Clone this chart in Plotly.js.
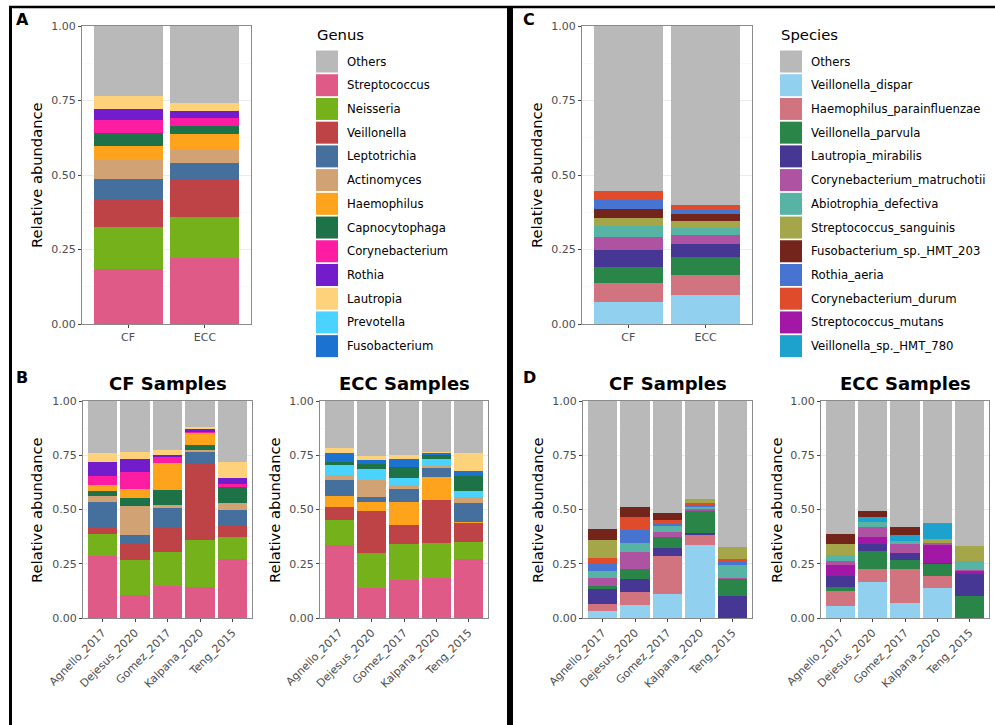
<!DOCTYPE html>
<html>
<head>
<meta charset="utf-8">
<script src="https://cdn.plot.ly/plotly-3.0.1.min.js"></script>
<style>html,body{margin:0;padding:0;background:#fff;}#chart{width:995px;height:725px;}</style>
</head>
<body>
<div id="chart"></div>
<script>
// ---------- categories ----------
const groups = ['CF', 'ECC'];
const studies = ['Agnello_2017', 'Dejesus_2020', 'Gomez_2017', 'Kalpana_2020', 'Teng_2015'];

const genera = ['Others', 'Streptococcus', 'Neisseria', 'Veillonella', 'Leptotrichia', 'Actinomyces',
  'Haemophilus', 'Capnocytophaga', 'Corynebacterium', 'Rothia', 'Lautropia', 'Prevotella', 'Fusobacterium'];
const genusColors = ['#b9b9b9', '#e05a88', '#75b11b', '#be4346', '#45709e', '#d1a274',
  '#fea31c', '#1d7248', '#fe1ca3', '#721ccb', '#fed27a', '#4ad3fe', '#1c72d0'];

const species = ['Others', 'Veillonella_dispar', 'Haemophilus_parainfluenzae', 'Veillonella_parvula',
  'Lautropia_mirabilis', 'Corynebacterium_matruchotii', 'Abiotrophia_defectiva', 'Streptococcus_sanguinis',
  'Fusobacterium_sp._HMT_203', 'Rothia_aeria', 'Corynebacterium_durum', 'Streptococcus_mutans', 'Veillonella_sp._HMT_780'];
const speciesColors = ['#b9b9b9', '#92d0f0', '#d27480', '#2a8548', '#463794', '#ae53a1',
  '#57b3a3', '#a5a54a', '#73251b', '#4774d1', '#e04b2b', '#a217a5', '#1ca2cc'];

// ---------- values (rows in legend order, columns = categories) ----------
// Panel A: genus, columns CF, ECC
const genusA = [
  [0.236, 0.258], [0.185, 0.220], [0.140, 0.138], [0.093, 0.129], [0.069, 0.054], [0.064, 0.042],
  [0.045, 0.055], [0.044, 0.028], [0.044, 0.024], [0.039, 0.026], [0.041, 0.026], [0, 0], [0, 0]
];
// Panel B: genus per study (Agnello, Dejesus, Gomez, Kalpana, Teng)
const genusB_CF = [
  [0.241, 0.237, 0.226, 0.121, 0.280],
  [0.287, 0.108, 0.149, 0.144, 0.272],
  [0.099, 0.159, 0.155, 0.217, 0.103],
  [0.032, 0.077, 0.109, 0.353, 0.054],
  [0.115, 0.038, 0.092, 0.051, 0.069],
  [0.031, 0.134, 0.016, 0.009, 0.033],
  [0.028, 0.042, 0.124, 0.054, 0],
  [0.021, 0.035, 0.069, 0.023, 0.071],
  [0.043, 0.078, 0.026, 0.008, 0.015],
  [0.064, 0.060, 0.011, 0.012, 0.027],
  [0.039, 0.032, 0.023, 0.008, 0.076],
  [0, 0, 0, 0, 0],
  [0, 0, 0, 0, 0]
];
const genusB_ECC = [
  [0.217, 0.253, 0.250, 0.235, 0.241],
  [0.338, 0.138, 0.175, 0.186, 0.272],
  [0.114, 0.160, 0.166, 0.160, 0.080],
  [0.058, 0.194, 0.086, 0.198, 0.084],
  [0.074, 0.021, 0.058, 0.043, 0.087],
  [0.021, 0.080, 0.019, 0.009, 0.028],
  [0.052, 0.043, 0.109, 0.104, 0.005],
  [0.012, 0.025, 0.050, 0.016, 0.067],
  [0, 0, 0, 0, 0],
  [0, 0, 0, 0, 0],
  [0.024, 0.019, 0.017, 0.003, 0.080],
  [0.050, 0.049, 0.031, 0.034, 0.031],
  [0.040, 0.018, 0.039, 0.012, 0.025]
];
// Panel C: species, columns CF, ECC
const speciesC = [
  [0.552, 0.600], [0.074, 0.099], [0.062, 0.066], [0.054, 0.061], [0.060, 0.042], [0.041, 0.029],
  [0.039, 0.026], [0.026, 0.024], [0.029, 0.021], [0.032, 0.016], [0.031, 0.016], [0, 0], [0, 0]
];
// Panel D: species per study
const speciesD_CF = [
  [0.588, 0.490, 0.518, 0.453, 0.674],
  [0.032, 0.060, 0.111, 0.336, 0],
  [0.034, 0.061, 0.176, 0.048, 0],
  [0.015, 0.044, 0.048, 0.105, 0.077],
  [0.066, 0.059, 0.037, 0.006, 0.103],
  [0.036, 0.080, 0.024, 0.006, 0.006],
  [0.034, 0.043, 0.028, 0.012, 0.057],
  [0.084, 0, 0, 0.019, 0.056],
  [0.053, 0.043, 0.030, 0, 0],
  [0.032, 0.059, 0.009, 0.008, 0.015],
  [0.026, 0.061, 0.019, 0.007, 0.012],
  [0, 0, 0, 0, 0],
  [0, 0, 0, 0, 0]
];
const speciesD_ECC = [
  [0.613, 0.507, 0.582, 0.564, 0.668],
  [0.057, 0.166, 0.068, 0.138, 0],
  [0.066, 0.061, 0.159, 0.057, 0],
  [0.021, 0.080, 0.040, 0.055, 0.101],
  [0.050, 0.032, 0.033, 0.005, 0.103],
  [0.020, 0.045, 0.043, 0.009, 0.008],
  [0.029, 0.024, 0.013, 0, 0.040],
  [0.051, 0, 0, 0.020, 0.069],
  [0.044, 0.026, 0.036, 0, 0],
  [0, 0, 0, 0, 0],
  [0, 0, 0, 0, 0],
  [0.049, 0.034, 0, 0.080, 0.011],
  [0, 0.025, 0.026, 0.072, 0]
];
// stacking order (bottom -> top) within each panel, as indices into the legend order
const orderA = [1, 2, 3, 4, 5, 6, 7, 8, 9, 10, 11, 12, 0];
const orderB_CF = [1, 2, 3, 4, 5, 7, 6, 8, 9, 10, 11, 12, 0];
const orderB_ECC = [1, 2, 3, 6, 4, 5, 11, 7, 12, 10, 8, 9, 0];
const orderC = [1, 2, 3, 4, 5, 6, 7, 8, 9, 10, 11, 12, 0];
const orderD_CF = [1, 2, 4, 3, 5, 6, 9, 10, 7, 8, 11, 12, 0];
const orderD_ECC = [1, 2, 3, 4, 11, 5, 6, 7, 12, 8, 9, 10, 0];

// ---------- layout helpers ----------
const W = 995, H = 725;
const px = v => v / W;
const py = v => 1 - v / H;
const FONT = 'DejaVu Sans, sans-serif';

const traces = [];
function addPanel(k, cats, mat, names, colors, order) {
  const xa = k === 1 ? 'x' : 'x' + k, ya = k === 1 ? 'y' : 'y' + k;
  order.forEach(i => {
    traces.push({
      type: 'bar', x: cats, y: mat[i], name: names[i], xaxis: xa, yaxis: ya,
      width: 0.9, marker: {color: colors[i], line: {width: 0}},
      showlegend: false, hoverinfo: 'x+y+name'
    });
  });
}
addPanel(1, groups, genusA, genera, genusColors, orderA);
addPanel(2, groups, speciesC, species, speciesColors, orderC);
addPanel(3, studies, genusB_CF, genera, genusColors, orderB_CF);
addPanel(4, studies, genusB_ECC, genera, genusColors, orderB_ECC);
addPanel(5, studies, speciesD_CF, species, speciesColors, orderD_CF);
addPanel(6, studies, speciesD_ECC, species, speciesColors, orderD_ECC);

function xAxis(dom, n, angle, anchor) {
  return {
    domain: [px(dom[0]), px(dom[1])], anchor: anchor, type: 'category',
    range: [-0.6, n - 0.4], showline: true, mirror: true, linecolor: '#8a8a8a', linewidth: 1,
    ticks: 'outside', ticklen: 3, tickcolor: '#444', tickangle: angle,
    tickfont: {family: FONT, size: 11, color: '#4d4d4d'},
    showgrid: true, gridcolor: '#ebebeb', zeroline: false, fixedrange: true
  };
}
function yAxis(dom, anchor) {
  return {
    domain: [py(dom[1]), py(dom[0])], anchor: anchor, range: [0, 1],
    tickvals: [0, 0.25, 0.5, 0.75, 1], ticktext: ['0.00', '0.25', '0.50', '0.75', '1.00'],
    showline: true, mirror: true, linecolor: '#8a8a8a', linewidth: 1,
    ticks: 'outside', ticklen: 3, tickcolor: '#444',
    tickfont: {family: FONT, size: 11, color: '#4d4d4d'},
    showgrid: true, gridcolor: '#ebebeb', gridwidth: 1, zeroline: false,
    minor: {tickvals: [0.125, 0.375, 0.625, 0.875], showgrid: true, gridcolor: '#f3f3f3', gridwidth: 0.6},
    fixedrange: true
  };
}

const topY = [26, 324], botY = [401, 618];
const layout = {
  width: W, height: H, margin: {l: 0, r: 0, t: 0, b: 0},
  paper_bgcolor: '#fff', plot_bgcolor: '#fff', barmode: 'stack', bargap: 0,
  showlegend: false,
  font: {family: FONT, color: '#000'},
  xaxis: xAxis([82, 251], 2, 0, 'y'), yaxis: yAxis(topY, 'x'),
  xaxis2: xAxis([582, 752], 2, 0, 'y2'), yaxis2: yAxis(topY, 'x2'),
  xaxis3: xAxis([83, 252], 5, -45, 'y3'), yaxis3: yAxis(botY, 'x3'),
  xaxis4: xAxis([320, 488], 5, -45, 'y4'), yaxis4: yAxis(botY, 'x4'),
  xaxis5: xAxis([583, 752], 5, -45, 'y5'), yaxis5: yAxis(botY, 'x5'),
  xaxis6: xAxis([821, 989], 5, -45, 'y6'), yaxis6: yAxis(botY, 'x6'),
  shapes: [], annotations: []
};

// panel frames
layout.shapes.push(
  {type: 'line', xref: 'paper', yref: 'paper', x0: px(9), x1: px(995), y0: py(7), y1: py(7), line: {color: '#000', width: 2.5}},
  {type: 'line', xref: 'paper', yref: 'paper', x0: px(10.5), x1: px(10.5), y0: py(6), y1: py(725), line: {color: '#000', width: 3}},
  {type: 'line', xref: 'paper', yref: 'paper', x0: px(510), x1: px(510), y0: py(6), y1: py(725), line: {color: '#000', width: 6}}
);

function ann(text, x, y, opts) {
  layout.annotations.push(Object.assign({
    text: text, x: px(x), y: py(y), xref: 'paper', yref: 'paper', showarrow: false,
    xanchor: 'center', yanchor: 'middle', font: {family: FONT, size: 12, color: '#000'}
  }, opts || {}));
}
// panel letters
ann('<b>A</b>', 22, 19, {font: {family: FONT, size: 16, color: '#000'}});
ann('<b>B</b>', 22, 378, {font: {family: FONT, size: 16, color: '#000'}});
ann('<b>C</b>', 529, 19, {font: {family: FONT, size: 16, color: '#000'}});
ann('<b>D</b>', 529, 378, {font: {family: FONT, size: 16, color: '#000'}});
// facet titles
const tfont = {family: FONT, size: 18, color: '#000'};
ann('<b>CF Samples</b>', 167.5, 383, {font: tfont});
ann('<b>ECC Samples</b>', 404, 383, {font: tfont});
ann('<b>CF Samples</b>', 667.5, 383, {font: tfont});
ann('<b>ECC Samples</b>', 905, 383, {font: tfont});
// y titles
const yfont = {family: FONT, size: 14.7, color: '#000'};
[[36, 175], [536, 175], [36, 510], [274, 510], [537, 510], [776, 510]].forEach(p => {
  ann('Relative abundance', p[0], p[1], {textangle: -90, font: yfont});
});

// legends
function drawLegend(title, names, colors, x0) {
  ann(title, x0 - 1, 35, {xanchor: 'left', font: {family: FONT, size: 14.8, color: '#000'}});
  names.forEach((n, i) => {
    const cy = 61.5 + 23.72 * i;
    layout.shapes.push({type: 'rect', xref: 'paper', yref: 'paper',
      x0: px(x0), x1: px(x0 + 22), y0: py(cy + 11), y1: py(cy - 11),
      fillcolor: colors[i], line: {width: 0}});
    ann(n, x0 + 29, cy, {xanchor: 'left', font: {family: FONT, size: 11.7, color: '#000'}});
  });
}
drawLegend('Genus', genera, genusColors, 316);
drawLegend('Species', species, speciesColors, 780);

Plotly.newPlot('chart', traces, layout, {displayModeBar: false, staticPlot: true});
</script>
</body>
</html>
